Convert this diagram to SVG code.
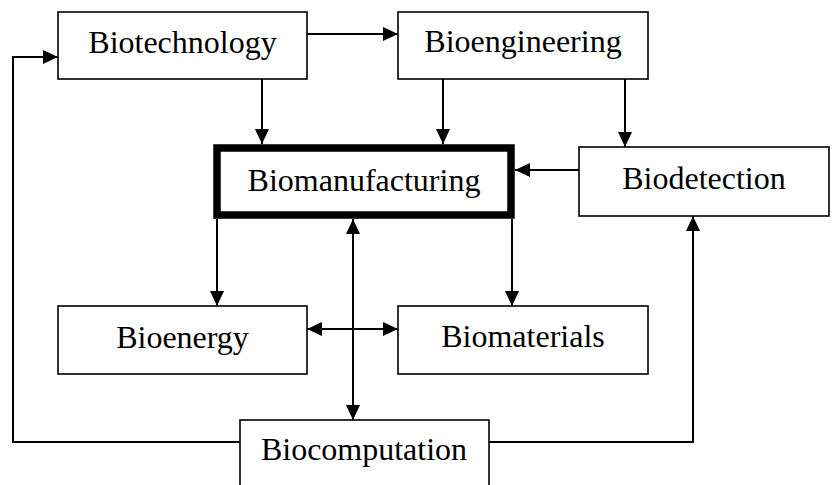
<svg xmlns="http://www.w3.org/2000/svg" width="832" height="485" viewBox="0 0 832 485">
<style>
.box{fill:#fff;stroke:#000;stroke-width:1.6}
.main{fill:#fff;stroke:#000;stroke-width:7.5}
.lbl{font-family:"Liberation Serif","Times New Roman",serif;font-size:32px;fill:#000;text-anchor:middle}
.con{fill:none;stroke:#000;stroke-width:2}
</style>
<defs>
<marker id="ah" markerUnits="userSpaceOnUse" markerWidth="16" markerHeight="14" refX="15" refY="7" orient="auto-start-reverse" viewBox="0 0 16 14">
<path d="M0,0 L15,7 L0,14 z" fill="#000"/>
</marker>
</defs>
<rect width="832" height="485" fill="#fff"/>
<g id="connectors">
<path class="con" d="M307,34 H398" marker-end="url(#ah)"/>
<path class="con" d="M262,79 V144" marker-end="url(#ah)"/>
<path class="con" d="M443,79 V144" marker-end="url(#ah)"/>
<path class="con" d="M625,79 V147" marker-end="url(#ah)"/>
<path class="con" d="M579,170 H515" marker-end="url(#ah)"/>
<path class="con" d="M217,219 V306" marker-end="url(#ah)"/>
<path class="con" d="M512,219 V306" marker-end="url(#ah)"/>
<path class="con" d="M353,219 V420" marker-start="url(#ah)" marker-end="url(#ah)"/>
<path class="con" d="M307,329 H398" marker-start="url(#ah)" marker-end="url(#ah)"/>
<path class="con" d="M240,442 H13 V57 H58" marker-end="url(#ah)"/>
<path class="con" d="M489,442 H693 V216" marker-end="url(#ah)"/>
</g>
<g id="biotechnology">
<rect class="box" x="58" y="12" width="249" height="67"/>
<text class="lbl" x="182.5" y="53">Biotechnology</text>
</g>
<g id="bioengineering">
<rect class="box" x="398" y="12" width="250" height="67"/>
<text class="lbl" x="523" y="52">Bioengineering</text>
</g>
<g id="biomanufacturing">
<rect class="main" x="217" y="148" width="294" height="67"/>
<text class="lbl" x="364" y="191">Biomanufacturing</text>
</g>
<g id="biodetection">
<rect class="box" x="579" y="147" width="250" height="69"/>
<text class="lbl" x="704" y="188.5">Biodetection</text>
</g>
<g id="bioenergy">
<rect class="box" x="58" y="306" width="249" height="68"/>
<text class="lbl" x="182.5" y="347.5">Bioenergy</text>
</g>
<g id="biomaterials">
<rect class="box" x="398" y="306" width="250" height="68"/>
<text class="lbl" x="523" y="347">Biomaterials</text>
</g>
<g id="biocomputation">
<rect class="box" x="240" y="420" width="249" height="80"/>
<text class="lbl" x="364" y="460">Biocomputation</text>
</g>
</svg>
